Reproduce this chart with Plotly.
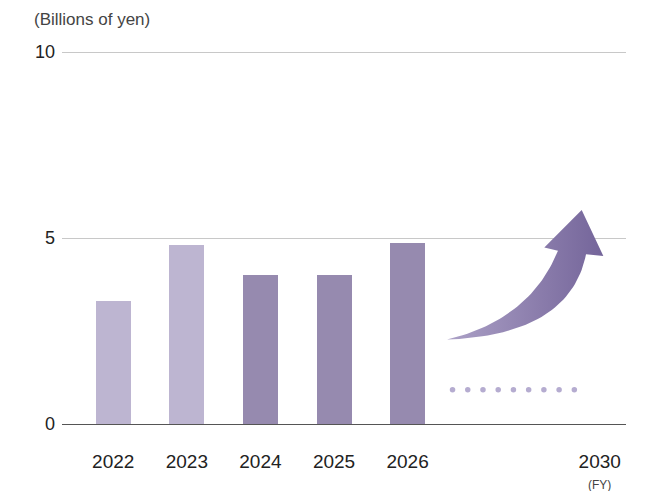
import numpy as np
import plotly.graph_objects as go

# Fiscal-year results and plan (billions of yen)
years = ["2022", "2023", "2024", "2025", "2026"]
values = [3.3, 4.82, 4.0, 4.0, 4.87]
bar_colors = ["#bdb5d1", "#bdb5d1", "#968aaf", "#968aaf", "#968aaf"]

target_label = "2030"
target_pos = 6.61          # slot of the 2030 label on the category axis
dot_level = 0.92           # height of the dotted leader toward 2030
dot_start, dot_end, dot_count = 4.61, 6.265, 9

y_ticks = [0, 5, 10]
font_family = "Liberation Sans, Arial, sans-serif"

x_pos = list(range(len(years)))

fig = go.Figure()

fig.add_trace(go.Bar(
    x=x_pos, y=values, width=0.476,
    marker=dict(color=bar_colors, line=dict(width=0)),
    hoverinfo="skip", showlegend=False,
))

# dotted leader toward the 2030 target
fig.add_trace(go.Scatter(
    x=np.linspace(dot_start, dot_end, dot_count),
    y=[dot_level] * dot_count,
    mode="markers",
    marker=dict(size=5.5, color="#b5acd0", line=dict(width=0)),
    hoverinfo="skip", showlegend=False,
))


# curved growth arrow
def bezier(p0, p1, p2, n=40):
    t = np.linspace(0, 1, n)[:, None]
    p0, p1, p2 = map(np.asarray, (p0, p1, p2))
    return (1 - t) ** 2 * p0 + 2 * (1 - t) * t * p1 + t ** 2 * p2


tail = (4.534, 2.27)
upper_ctrl = (5.663, 2.806)
shaft_left = (6.043, 4.66)
head_left = (5.857, 4.743)
tip = (6.365, 5.756)
head_right = (6.659, 4.519)
shaft_right = (6.424, 4.566)
lower_ctrl = (6.207, 2.40)

upper = bezier(tail, upper_ctrl, shaft_left)
lower = bezier(shaft_right, lower_ctrl, tail)
outline = np.vstack([upper, [head_left, tip, head_right], lower])

fig.add_trace(go.Scatter(
    x=outline[:, 0], y=outline[:, 1],
    mode="lines", fill="toself",
    line=dict(width=0, color="rgba(0,0,0,0)"),
    fillgradient=dict(type="horizontal",
                      colorscale=[[0, "#aca1c7"], [0.6, "#8a7cab"], [1, "#74659a"]]),
    hoverinfo="skip", showlegend=False,
))

fig.update_layout(
    width=646, height=491,
    margin=dict(l=62, r=20, t=51, b=67),
    paper_bgcolor="white", plot_bgcolor="white",
    font=dict(family=font_family, color="#222222"),
    bargap=0,
    xaxis=dict(
        range=[-0.696, 6.967],
        tickmode="array",
        tickvals=x_pos + [target_pos],
        ticktext=years + [target_label],
        tickfont=dict(size=19, color="#222222"),
        ticks="", ticklabelstandoff=20,
        showgrid=False, zeroline=False,
        showline=True, linecolor="#555555", linewidth=1,
        fixedrange=True,
    ),
    yaxis=dict(
        range=[0, 10.03],
        tickvals=y_ticks,
        tickfont=dict(size=18, color="#222222"),
        ticks="", ticklabelstandoff=6,
        showgrid=True, gridcolor="#c8c8c8", gridwidth=1,
        zeroline=False, showline=False,
        fixedrange=True,
    ),
    annotations=[
        dict(text="(Billions of yen)", xref="paper", yref="paper",
             x=-0.053, y=1.085, xanchor="left", yanchor="middle",
             showarrow=False, font=dict(size=17, color="#444444")),
        dict(text="(FY)", xref="x", yref="paper",
             x=target_pos, y=-0.163, xanchor="center", yanchor="middle",
             showarrow=False, font=dict(size=12, color="#444444")),
    ],
)

fig.write_html("out.html")
